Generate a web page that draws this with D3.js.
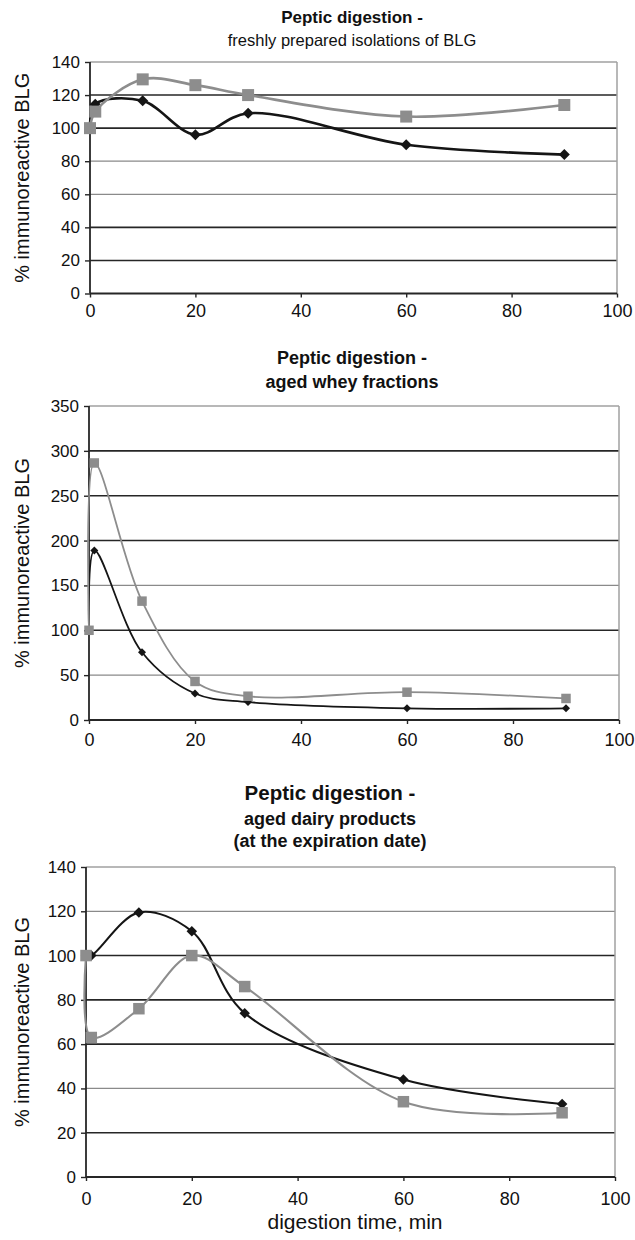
<!DOCTYPE html>
<html>
<head>
<meta charset="utf-8">
<script src="https://cdn.jsdelivr.net/npm/d3@7/dist/d3.min.js"></script>
<style>
	body { margin: 0; background: #fff; }
	svg { display: block; font-family: "Liberation Sans", Arial, sans-serif; }
</style>
</head>
<body>
<div id="chart"></div>
<script>
// sampling times (min), shared by every series
const minutes = [0, 1, 10, 20, 30, 60, 90];
const xTicks = [0, 20, 40, 60, 80, 100];

// freshly prepared isolations of BLG
const freshBlack = [100, 114.5, 116.5, 96, 109, 90, 84];
const freshGray = [100, 110, 129.5, 126, 120, 107, 114];
const freshTicks = [0, 20, 40, 60, 80, 100, 120, 140];
const freshDarkGrid = [0, 20, 40, 100, 120];

// aged whey fractions
const wheyBlack = [100, 189, 75.5, 29.5, 20, 13, 13];
const wheyGray = [100, 286.5, 132.5, 43, 26.5, 31, 24];
const wheyTicks = [0, 50, 100, 150, 200, 250, 300, 350];
const wheyDarkGrid = [0, 100, 200, 250, 300];

// aged dairy products
const dairyBlack = [100, 100, 119.5, 111, 74, 44, 33];
const dairyGray = [100, 63, 76, 100, 86, 34, 29];
const dairyTicks = [0, 20, 40, 60, 80, 100, 120, 140];
const dairyDarkGrid = [0, 20, 60, 80, 100];

const Y_LABEL = '% immunoreactive BLG';
const X_LABEL = 'digestion time, min';

const COLORS = { dark: '#151515', gray: '#8d8d8d', gridDark: '#262626', gridLight: '#8a8a8a', frame: '#a0a0a0' };

const PANELS = [
	{
		L: 90, R: 617, T: 62, B: 293.5, ticks: freshTicks, darkGrid: freshDarkGrid, xPad: 7,
		black: freshBlack, gray: freshGray, diamond: 11, square: 12, lineW: 2.6,
		titles: [
			{ text: 'Peptic digestion -', size: 17, weight: 'bold', y: 23, cx: 352 },
			{ text: 'freshly prepared isolations of BLG', size: 16.5, weight: 'normal', y: 46, cx: 352 }
		]
	},
	{
		L: 89, R: 619, T: 406, B: 720, ticks: wheyTicks, darkGrid: wheyDarkGrid, xPad: 9,
		black: wheyBlack, gray: wheyGray, diamond: 8, square: 9.5, lineW: 1.8,
		titles: [
			{ text: 'Peptic digestion -', size: 18, weight: 'bold', y: 364, cx: 352 },
			{ text: 'aged whey fractions', size: 18, weight: 'bold', y: 388, cx: 352 }
		]
	},
	{
		L: 86, R: 615, T: 867, B: 1177, ticks: dairyTicks, darkGrid: dairyDarkGrid, xPad: 11,
		black: dairyBlack, gray: dairyGray, diamond: 10.5, square: 11.5, lineW: 2.1,
		titles: [
			{ text: 'Peptic digestion -', size: 20.5, weight: 'bold', y: 800, cx: 330 },
			{ text: 'aged dairy products', size: 18, weight: 'bold', y: 825, cx: 330 },
			{ text: '(at the expiration date)', size: 18, weight: 'bold', y: 847, cx: 330 }
		],
		xLabel: { text: X_LABEL, size: 21, y: 1229, cx: 355 }
	}
];

var svg = d3.select('#chart').append('svg')
	.attr('width', 635)
	.attr('height', 1240);

function drawPanel(p) {
	var yMax = p.ticks[p.ticks.length - 1];
	var x = d3.scaleLinear().domain([0, 100]).range([p.L, p.R]);
	var y = d3.scaleLinear().domain([0, yMax]).range([p.B, p.T]);
	var g = svg.append('g');

	// gridlines
	g.selectAll('.grid')
		.data(p.ticks.filter(function(d) { return d > 0; }))
		.enter().append('line')
		.attr('class', 'grid')
		.attr('x1', p.L).attr('x2', p.R)
		.attr('y1', function(d) { return y(d); })
		.attr('y2', function(d) { return y(d); })
		.attr('stroke', function(d) {
			if (d === yMax) return COLORS.frame;
			return p.darkGrid.indexOf(d) >= 0 ? COLORS.gridDark : COLORS.gridLight;
		})
		.attr('stroke-width', function(d) { return p.darkGrid.indexOf(d) >= 0 ? 1.6 : 1.3; });

	// right frame edge
	g.append('line')
		.attr('x1', p.R).attr('x2', p.R).attr('y1', p.T).attr('y2', p.B)
		.attr('stroke', COLORS.frame).attr('stroke-width', 1.5);

	// axes
	var yAxis = d3.axisLeft(y).tickValues(p.ticks).tickSize(5).tickPadding(5);
	var xAxis = d3.axisBottom(x).tickValues(xTicks).tickSize(4).tickPadding(p.xPad);

	var ya = g.append('g').attr('transform', 'translate(' + p.L + ',0)').call(yAxis);
	var xa = g.append('g').attr('transform', 'translate(0,' + p.B + ')').call(xAxis);

	[ya, xa].forEach(function(a) {
		a.select('.domain').attr('stroke', COLORS.gridDark).attr('stroke-width', 1.8);
		a.selectAll('.tick line').attr('stroke', COLORS.gridDark).attr('stroke-width', 1.4);
		a.selectAll('.tick text')
			.attr('fill', '#111')
			.style('font-family', '"Liberation Sans", Arial, sans-serif');
	});
	ya.selectAll('.tick text').style('font-size', '17px');
	xa.selectAll('.tick text').style('font-size', '18px');
	ya.select('.domain').attr('d', 'M0,' + p.T + 'V' + p.B);
	xa.select('.domain').attr('d', 'M' + p.L + ',0H' + p.R);

	// series
	var line = d3.line()
		.x(function(d) { return x(d[0]); })
		.y(function(d) { return y(d[1]); })
		.curve(d3.curveCatmullRom.alpha(0.5));

	var blackPts = d3.zip(minutes, p.black);
	var grayPts = d3.zip(minutes, p.gray);

	g.append('path')
		.attr('d', line(blackPts))
		.attr('fill', 'none')
		.attr('stroke', COLORS.dark)
		.attr('stroke-width', p.lineW);

	g.selectAll('.diamond')
		.data(blackPts)
		.enter().append('path')
		.attr('class', 'diamond')
		.attr('d', d3.symbol().type(d3.symbolSquare).size(p.diamond * p.diamond / 2))
		.attr('transform', function(d) { return 'translate(' + x(d[0]) + ',' + y(d[1]) + ') rotate(45)'; })
		.attr('fill', COLORS.dark);

	g.append('path')
		.attr('d', line(grayPts))
		.attr('fill', 'none')
		.attr('stroke', COLORS.gray)
		.attr('stroke-width', p.lineW);

	g.selectAll('.square')
		.data(grayPts)
		.enter().append('path')
		.attr('class', 'square')
		.attr('d', d3.symbol().type(d3.symbolSquare).size(p.square * p.square))
		.attr('transform', function(d) { return 'translate(' + x(d[0]) + ',' + y(d[1]) + ')'; })
		.attr('fill', COLORS.gray);

	// titles
	p.titles.forEach(function(t) {
		g.append('text')
			.attr('x', t.cx).attr('y', t.y)
			.attr('text-anchor', 'middle')
			.style('font-size', t.size + 'px')
			.style('font-weight', t.weight)
			.attr('fill', '#111')
			.text(t.text);
	});

	// y axis title
	g.append('text')
		.attr('transform', 'translate(22,' + ((p.T + p.B) / 2) + ') rotate(-90)')
		.attr('dy', '0.35em')
		.attr('text-anchor', 'middle')
		.style('font-size', '20px')
		.attr('fill', '#111')
		.text(Y_LABEL);

	if (p.xLabel) {
		g.append('text')
			.attr('x', p.xLabel.cx).attr('y', p.xLabel.y)
			.attr('text-anchor', 'middle')
			.style('font-size', p.xLabel.size + 'px')
			.attr('fill', '#111')
			.text(p.xLabel.text);
	}
}

PANELS.forEach(drawPanel);
</script>
</body>
</html>
